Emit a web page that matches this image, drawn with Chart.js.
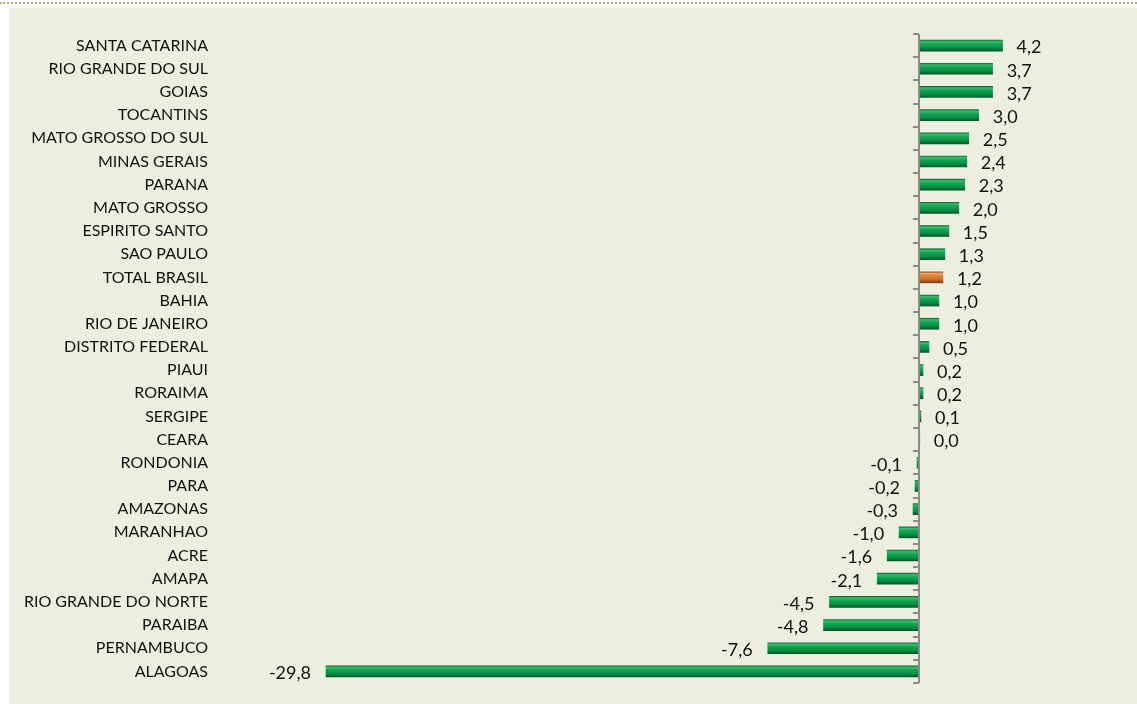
<!DOCTYPE html>
<html>
<head>
<meta charset="utf-8">
<script src="https://cdn.jsdelivr.net/npm/chart.js@4.4.0/dist/chart.umd.min.js"></script>
<style>
  body { margin: 0; background: #fff; }
  #topline { position: absolute; left: 0; top: 2px; width: 1137px; border-top: 2px dotted #b9ab80; }
  #panel { position: absolute; left: 9px; top: 8px; width: 1128px; height: 696px; background: #ecefe0; }
</style>
</head>
<body>
<div id="topline"></div>
<div id="panel"><canvas id="grafico" width="1128" height="696"></canvas></div>
<script>
const estados = ["SANTA CATARINA", "RIO GRANDE DO SUL", "GOIAS", "TOCANTINS", "MATO GROSSO DO SUL",
  "MINAS GERAIS", "PARANA", "MATO GROSSO", "ESPIRITO SANTO", "SAO PAULO", "TOTAL BRASIL", "BAHIA",
  "RIO DE JANEIRO", "DISTRITO FEDERAL", "PIAUI", "RORAIMA", "SERGIPE", "CEARA", "RONDONIA", "PARA",
  "AMAZONAS", "MARANHAO", "ACRE", "AMAPA", "RIO GRANDE DO NORTE", "PARAIBA", "PERNAMBUCO", "ALAGOAS"];
const variacao = [4.2, 3.7, 3.7, 3.0, 2.5, 2.4, 2.3, 2.0, 1.5, 1.3, 1.2, 1.0, 1.0, 0.5, 0.2, 0.2, 0.1, 0.04,
  -0.1, -0.2, -0.3, -1.0, -1.6, -2.1, -4.5, -4.8, -7.6, -29.8];
const destaque = "TOTAL BRASIL";

function preenchimento(ctx) {
  const chart = ctx.chart;
  const y = chart.scales && chart.scales.y;
  const laranja = estados[ctx.dataIndex] === destaque;
  if (!y || ctx.type !== 'data') return laranja ? '#d97a33' : '#0a9845';
  const c = y.getPixelForValue(ctx.dataIndex);
  if (!isFinite(c)) return laranja ? '#d97a33' : '#0a9845';
  const g = chart.ctx.createLinearGradient(0, c - 5.5, 0, c + 5.5);
  if (laranja) {
    g.addColorStop(0, '#9a5220');
    g.addColorStop(0.15, '#f0a462');
    g.addColorStop(0.35, '#e0843c');
    g.addColorStop(0.7, '#c96a26');
    g.addColorStop(1, '#7a3e14');
  } else {
    g.addColorStop(0, '#0b7038');
    g.addColorStop(0.15, '#3cbd6c');
    g.addColorStop(0.35, '#13a653');
    g.addColorStop(0.7, '#069041');
    g.addColorStop(1, '#04562a');
  }
  return g;
}

const rotulos = {
  id: 'rotulos',
  afterDatasetsDraw(chart) {
    const ctx = chart.ctx;
    const x = chart.scales.x, y = chart.scales.y;
    const meta = chart.getDatasetMeta(0);
    ctx.save();
    // eixo do zero
    const x0 = x.getPixelForValue(0);
    const passo = y.getPixelForValue(1) - y.getPixelForValue(0);
    const topo = y.getPixelForValue(0) - passo / 2;
    const base = y.getPixelForValue(estados.length - 1) + passo / 2;
    ctx.strokeStyle = '#8c8c8c';
    ctx.lineWidth = 2;
    ctx.beginPath();
    ctx.moveTo(x0, topo);
    ctx.lineTo(x0, base);
    for (let i = 0; i <= estados.length; i++) {
      const yy = Math.round(topo + i * passo);
      ctx.moveTo(x0 - 6, yy);
      ctx.lineTo(x0, yy);
    }
    ctx.stroke();
    // valores
    ctx.fillStyle = '#111';
    ctx.font = '18px Lato';
    ctx.textBaseline = 'middle';
    meta.data.forEach((bar, i) => {
      const v = variacao[i];
      const txt = v.toFixed(1).replace('.', ',');
      if (v >= 0) {
        ctx.textAlign = 'left';
        ctx.fillText(txt, bar.x + 14, bar.y + 2);
      } else {
        ctx.textAlign = 'right';
        ctx.fillText(txt, bar.x - 15, bar.y + 2);
      }
    });
    ctx.restore();
  }
};

new Chart(document.getElementById('grafico'), {
  type: 'bar',
  data: {
    labels: estados,
    datasets: [{
      data: variacao,
      backgroundColor: preenchimento,
      borderWidth: 0,
      barThickness: 11
    }]
  },
  options: {
    indexAxis: 'y',
    responsive: false,
    animation: false,
    layout: { padding: { top: 26, bottom: 21, right: 19, left: 0 } },
    plugins: { legend: { display: false }, tooltip: { enabled: false } },
    scales: {
      x: { display: false, min: -30, max: 10 },
      y: {
        grid: { display: false },
        border: { display: false },
        ticks: { color: '#111', padding: 106, font: { family: 'Lato', size: 16 } },
        afterFit(scale) {
          scale.width = 313;
          scale.paddingTop = 0;
          scale.paddingBottom = 0;
        }
      }
    }
  },
  plugins: [rotulos]
});
</script>
</body>
</html>
